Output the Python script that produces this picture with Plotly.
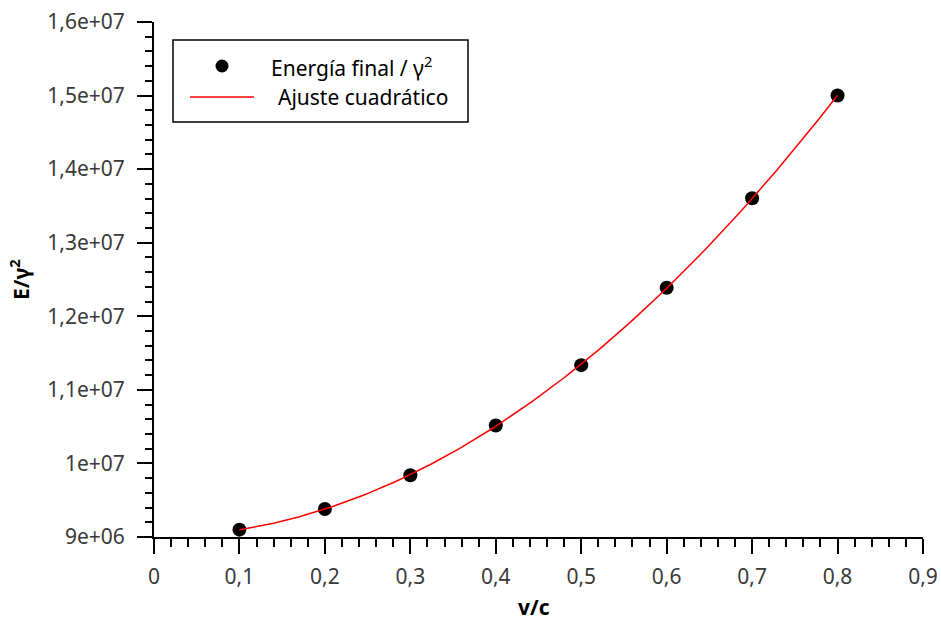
import numpy as np
import plotly.graph_objects as go

# Data
v_c = [0.1, 0.2, 0.3, 0.4, 0.5, 0.6, 0.7, 0.8]
energia = [9.10e6, 9.38e6, 9.84e6, 1.0516e7, 1.1336e7, 1.2388e7, 1.3605e7, 1.500e7]

x_tickvals = [0, 0.1, 0.2, 0.3, 0.4, 0.5, 0.6, 0.7, 0.8, 0.9]
x_ticktext = ["0", "0,1", "0,2", "0,3", "0,4", "0,5", "0,6", "0,7", "0,8", "0,9"]
y_tickvals = [9e6, 1e7, 1.1e7, 1.2e7, 1.3e7, 1.4e7, 1.5e7, 1.6e7]
y_ticktext = ["9e+06", "1e+07", "1,1e+07", "1,2e+07", "1,3e+07", "1,4e+07", "1,5e+07", "1,6e+07"]

series_names = ["Energía final / γ<sup>2</sup>", "Ajuste cuadrático"]

# Quadratic fit of the data (the "Ajuste cuadrático")
coef = np.polyfit(v_c, energia, 2)
x_fit = np.linspace(min(v_c), max(v_c), 200)
y_fit = np.polyval(coef, x_fit)

FONT = "Noto Sans"
FS = 21
W, H = 941, 626
ML, MR, MT, MB = 154, 18, 22, 89
PW, PH = W - ML - MR, H - MT - MB


def px(xpix):
    return (xpix - ML) / PW


def py(ypix):
    return (H - MB - ypix) / PH


fig = go.Figure()
fig.add_trace(go.Scatter(
    x=v_c, y=energia, mode="markers", name=series_names[0],
    marker=dict(color="black", size=14), showlegend=False,
))
fig.add_trace(go.Scatter(
    x=x_fit, y=y_fit, mode="lines", name=series_names[1],
    line=dict(color="#ff0000", width=1.5), showlegend=False,
))

axis_common = dict(
    showline=True, linecolor="black", linewidth=2,
    ticks="outside", tickcolor="black", tickwidth=2, ticklen=15,
    showgrid=False, zeroline=False, automargin=False,
    tickfont=dict(family=FONT, size=FS, color="#3a3a3a"),
)

# Custom legend box
shapes = [
    dict(type="rect", xref="paper", yref="paper",
         x0=px(173), x1=px(468), y0=py(122), y1=py(40),
         line=dict(color="black", width=1.5), fillcolor="white", layer="above"),
    dict(type="circle", xref="paper", yref="paper",
         x0=px(222 - 6.5), x1=px(222 + 6.5), y0=py(66 + 6.5), y1=py(66 - 6.5),
         line=dict(color="black", width=0), fillcolor="black", layer="above"),
    dict(type="line", xref="paper", yref="paper",
         x0=px(190), x1=px(254), y0=py(97), y1=py(97),
         line=dict(color="#ff0000", width=1.5), layer="above"),
]

annotations = [
    dict(text=series_names[0], xref="paper", yref="paper", x=px(269), y=py(66),
         xanchor="left", yanchor="middle", showarrow=False,
         font=dict(family=FONT, size=FS, color="black")),
    dict(text=series_names[1], xref="paper", yref="paper", x=px(276), y=py(97),
         xanchor="left", yanchor="middle", showarrow=False,
         font=dict(family=FONT, size=FS, color="black")),
    dict(text="<b>v/c</b>", xref="paper", yref="paper", x=px(534), y=py(607),
         xanchor="center", yanchor="middle", showarrow=False,
         font=dict(family=FONT, size=FS, color="black")),
    dict(text="<b>E/γ<sup>2</sup></b>", xref="paper", yref="paper", x=px(19), y=py(280),
         xanchor="center", yanchor="middle", showarrow=False, textangle=-90,
         font=dict(family=FONT, size=FS, color="black")),
]

fig.update_layout(
    width=W, height=H,
    margin=dict(l=ML, r=MR, t=MT, b=MB),
    paper_bgcolor="white", plot_bgcolor="white",
    font=dict(family=FONT, size=FS, color="black"),
    showlegend=False,
    shapes=shapes,
    annotations=annotations,
    xaxis=dict(
        range=[0, 0.9], tickmode="array", tickvals=x_tickvals, ticktext=x_ticktext,
        minor=dict(ticks="outside", ticklen=8, tickwidth=2, tickcolor="black",
                   tick0=0, dtick=0.02, showgrid=False),
        ticklabelstandoff=5,
        **axis_common,
    ),
    yaxis=dict(
        range=[9e6, 1.6e7], tickmode="array", tickvals=y_tickvals, ticktext=y_ticktext,
        minor=dict(ticks="outside", ticklen=7, tickwidth=2, tickcolor="black",
                   tick0=9e6, dtick=2e5, showgrid=False),
        ticklabelstandoff=8,
        **axis_common,
    ),
)

fig.write_html(
    "out.html",
    config={"displayModeBar": False},
    post_script="document.body.style.margin='0';document.body.style.overflow='hidden';",
)
